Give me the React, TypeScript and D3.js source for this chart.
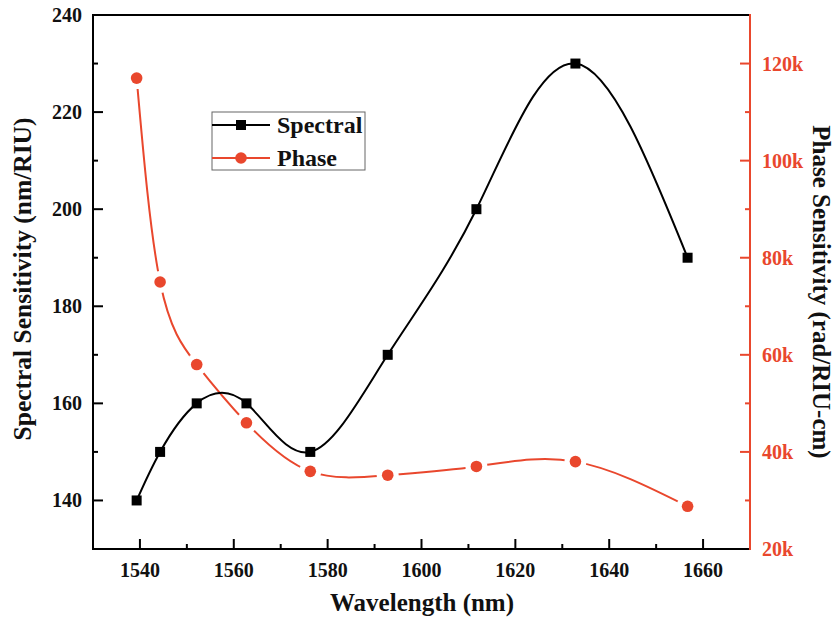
import React from 'react';
import * as d3 from 'd3';

const wavelengths = [1539.3, 1544.3, 1552.1, 1562.7, 1576.3, 1592.8, 1611.7, 1632.8, 1656.7];
const spectralValues = [140, 150, 160, 160, 150, 170, 200, 230, 190];
const phaseValues = [117000, 75000, 58000, 46000, 36000, 35200, 37000, 38000, 28800];
const xTicks = [1540, 1560, 1580, 1600, 1620, 1640, 1660];
const leftTicks = [140, 160, 180, 200, 220, 240];
const rightTicks = [20000, 40000, 60000, 80000, 100000, 120000];
const seriesNames = ['Spectral', 'Phase'];

const W = 837;
const H = 622;
const M = { left: 93, right: 750, top: 15, bottom: 549 };
const RED = '#E9472D';
const FONT = '"Liberation Serif","Times New Roman",serif';

export default function App() {
  const x = d3.scaleLinear().domain([1530, 1670]).range([M.left, M.right]);
  const yL = d3.scaleLinear().domain([130, 240]).range([M.bottom, M.top]);
  const yR = d3.scaleLinear().domain([20000, 130000]).range([M.bottom, M.top]);

  const specPts: [number, number][] = wavelengths.map((w, i) => [x(w), yL(spectralValues[i])]);
  const phPts: [number, number][] = wavelengths.map((w, i) => [x(w), yR(phaseValues[i])]);
  const line = d3.line().curve(d3.curveNatural);

  const xMinor = d3.range(1550, 1670, 20);
  const lMinor = d3.range(150, 240, 20);
  const rMinor = d3.range(30000, 130000, 20000);

  const MAJ = 10;
  const MIN = 5;
  const sq = 10;
  const cr = 5.8;

  const legX = 212;
  const legRows = [125, 158];

  return (
    <svg width={W} height={H} style={{ position: 'absolute', left: 0, top: 0, background: '#fff' }} fontFamily={FONT}>
      <defs>
        <mask id="gapmask" maskUnits="userSpaceOnUse" x={0} y={0} width={W} height={H}>
          <rect x={0} y={0} width={W} height={H} fill="white" />
          {phPts.map((p, i) => (
            <circle key={i} cx={p[0]} cy={p[1]} r={11} fill="black" />
          ))}
        </mask>
      </defs>

      {/* ticks */}
      {xTicks.map((t) => (
        <line key={'xt' + t} x1={x(t)} x2={x(t)} y1={M.bottom} y2={M.bottom - MAJ} stroke="#000" strokeWidth={2} />
      ))}
      {xMinor.map((t) => (
        <line key={'xm' + t} x1={x(t)} x2={x(t)} y1={M.bottom} y2={M.bottom - MIN} stroke="#000" strokeWidth={2} />
      ))}
      {leftTicks.map((t) => (
        <line key={'lt' + t} x1={M.left} x2={M.left + MAJ} y1={yL(t)} y2={yL(t)} stroke="#000" strokeWidth={2} />
      ))}
      {lMinor.map((t) => (
        <line key={'lm' + t} x1={M.left} x2={M.left + MIN} y1={yL(t)} y2={yL(t)} stroke="#000" strokeWidth={2} />
      ))}
      {rightTicks.map((t) => (
        <line key={'rt' + t} x1={M.right} x2={M.right - MAJ} y1={yR(t)} y2={yR(t)} stroke={RED} strokeWidth={2} />
      ))}
      {rMinor.map((t) => (
        <line key={'rm' + t} x1={M.right} x2={M.right - MIN} y1={yR(t)} y2={yR(t)} stroke={RED} strokeWidth={2} />
      ))}

      {/* tick labels */}
      {xTicks.map((t) => (
        <text key={'xl' + t} x={x(t)} y={577} textAnchor="middle" fontSize={20} fontWeight="bold" fill="#111">
          {t}
        </text>
      ))}
      {leftTicks.map((t) => (
        <text key={'ll' + t} x={82} y={yL(t)} dy="0.35em" textAnchor="end" fontSize={20} fontWeight="bold" fill="#111">
          {t}
        </text>
      ))}
      {rightTicks.map((t) => (
        <text key={'rl' + t} x={762} y={yR(t)} dy="0.35em" textAnchor="start" fontSize={20} fontWeight="bold" fill={RED}>
          {t / 1000 + 'k'}
        </text>
      ))}

      {/* axis titles */}
      <text x={422} y={611} textAnchor="middle" fontSize={25} fontWeight="bold" fill="#111">
        Wavelength (nm)
      </text>
      <text transform={`translate(31,279) rotate(-90)`} textAnchor="middle" fontSize={25.5} fontWeight="bold" fill="#111">
        Spectral Sensitivity (nm/RIU)
      </text>
      <text transform={`translate(813,292) rotate(90)`} textAnchor="middle" fontSize={25} fontWeight="bold" fill="#111">
        Phase Sensitivity (rad/RIU-cm)
      </text>

      {/* series */}
      <path d={line(phPts) || ''} fill="none" stroke={RED} strokeWidth={2} mask="url(#gapmask)" />
      <path d={line(specPts) || ''} fill="none" stroke="#000" strokeWidth={2} />
      {specPts.map((p, i) => (
        <rect key={'s' + i} x={p[0] - sq / 2} y={p[1] - sq / 2} width={sq} height={sq} fill="#000" />
      ))}
      {phPts.map((p, i) => (
        <circle key={'c' + i} cx={p[0]} cy={p[1]} r={cr} fill={RED} />
      ))}

      {/* legend */}
      <rect x={legX} y={112} width={153} height={58} fill="#fff" stroke="#666" strokeWidth={1} />
      <line x1={legX} x2={legX + 58} y1={legRows[0]} y2={legRows[0]} stroke="#000" strokeWidth={2} />
      <rect x={legX + 29 - sq / 2} y={legRows[0] - sq / 2} width={sq} height={sq} fill="#000" />
      <line x1={legX} x2={legX + 58} y1={legRows[1]} y2={legRows[1]} stroke={RED} strokeWidth={2} />
      <circle cx={legX + 29} cy={legRows[1]} r={cr} fill={RED} />
      {seriesNames.map((n, i) => (
        <text key={n} x={legX + 65} y={legRows[i]} dy="0.35em" fontSize={24} fontWeight="bold" fill="#111">
          {n}
        </text>
      ))}

      {/* spines */}
      <line x1={M.left} x2={M.right} y1={M.top} y2={M.top} stroke="#000" strokeWidth={2} />
      <line x1={M.left} x2={M.right} y1={M.bottom} y2={M.bottom} stroke="#000" strokeWidth={2} />
      <line x1={M.left} x2={M.left} y1={M.top - 1} y2={M.bottom + 1} stroke="#000" strokeWidth={2} />
      <line x1={M.right} x2={M.right} y1={M.top - 1} y2={M.bottom + 1} stroke={RED} strokeWidth={2} />
    </svg>
  );
}
